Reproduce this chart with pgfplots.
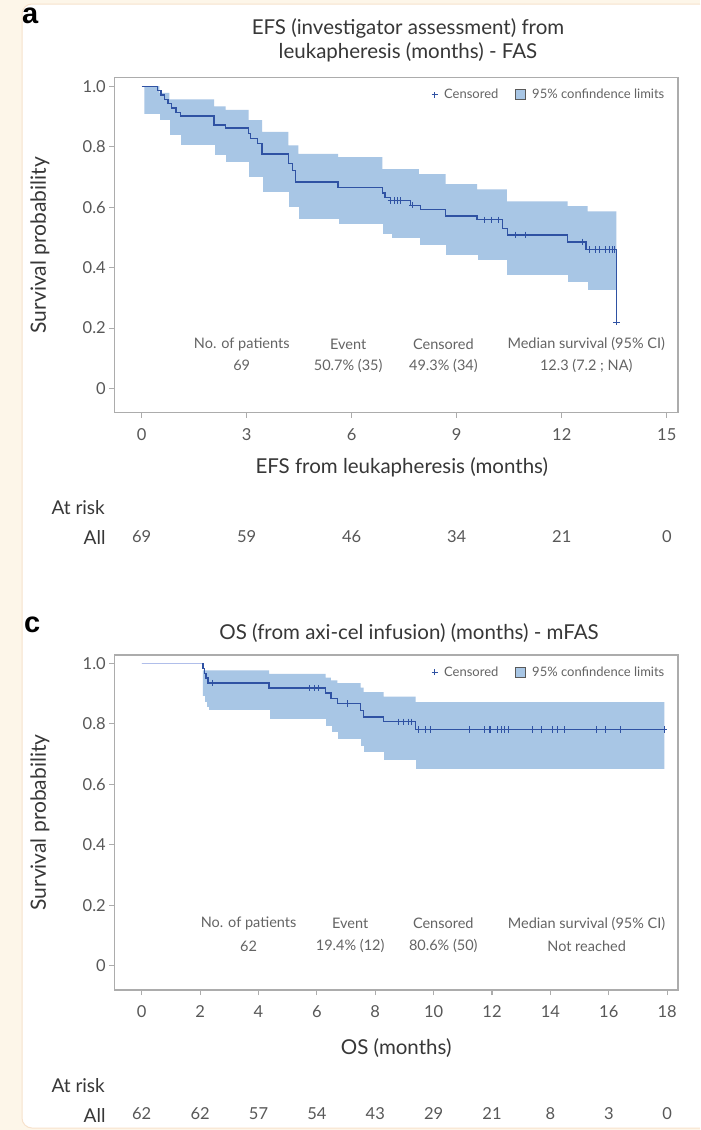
\documentclass[border=0pt]{standalone}
\usepackage{pgfplots}
\usepackage{pgfplotstable}
\pgfplotsset{compat=1.18}
\usepackage{fontspec}
\setmainfont{Lato}
\newfontfamily\panelfont{Liberation Sans}

\definecolor{cream}{RGB}{253,246,233}
\definecolor{cardedge}{RGB}{247,226,204}
\definecolor{cifill}{RGB}{168,198,229}
\definecolor{kmline}{RGB}{47,82,163}
\definecolor{kmlight}{RGB}{176,190,234}
\definecolor{framegray}{RGB}{172,172,172}
\definecolor{tickgray}{RGB}{88,88,88}
\definecolor{statgray}{RGB}{100,100,100}
\definecolor{titlegray}{RGB}{55,55,55}

\newcommand{\fs}[1]{\fontsize{#1}{#1}\selectfont}

% ---------- EFS from leukapheresis (FAS) ----------
\pgfplotstableread{
t S
0 1.0
0.45 0.986
0.55 0.971
0.65 0.957
0.75 0.942
0.85 0.928
0.98 0.914
1.12 0.901
2.07 0.872
2.4 0.862
3.06 0.843
3.12 0.827
3.3 0.811
3.44 0.776
4.19 0.745
4.3 0.720
4.39 0.683
5.61 0.666
6.88 0.647
6.95 0.632
7.1 0.622
7.68 0.606
7.97 0.592
8.68 0.571
9.58 0.558
10.3 0.530
10.45 0.508
12.17 0.485
12.69 0.460
13.56 0.220
}\efsKM

\pgfplotstableread{
t L U
0.08 0.906 1.0
0.51 0.885 0.978
0.79 0.836 0.956
1.12 0.802 0.956
2.07 0.771 0.933
2.4 0.748 0.922
3.06 0.698 0.888
3.44 0.648 0.849
4.19 0.597 0.804
4.48 0.558 0.776
5.61 0.541 0.765
6.88 0.508 0.726
7.12 0.496 0.726
7.92 0.474 0.709
8.68 0.440 0.676
9.58 0.424 0.659
10.43 0.373 0.619
12.17 0.350 0.603
12.74 0.323 0.586
13.56 0.323 0.586
}\efsCI

\pgfplotstableread{
t S
7.12 0.622
7.22 0.622
7.31 0.622
7.40 0.622
7.73 0.606
9.80 0.558
9.98 0.558
10.20 0.558
10.69 0.508
10.97 0.508
12.60 0.485
12.80 0.460
12.97 0.460
13.07 0.460
13.26 0.460
13.35 0.460
13.45 0.460
13.50 0.460
13.56 0.220
}\efsCens

% ---------- OS from axi-cel infusion (mFAS) ----------
\pgfplotstableread{
t S
0 1.0
2.1 0.984
2.15 0.968
2.2 0.952
2.27 0.935
4.36 0.919
6.3 0.902
6.48 0.885
6.7 0.868
7.5 0.845
7.6 0.823
8.29 0.807
9.38 0.782
17.9 0.782
}\osKM

\pgfplotstableread{
t L U
2.09 0.890 0.977
2.15 0.870 0.977
2.2 0.855 0.977
2.27 0.843 0.977
4.36 0.815 0.966
6.3 0.790 0.953
6.48 0.770 0.944
6.7 0.748 0.935
7.5 0.725 0.920
7.6 0.704 0.905
8.29 0.678 0.890
9.38 0.648 0.872
17.9 0.648 0.872
}\osCI

\pgfplotstableread{
t S
2.41 0.935
5.76 0.919
5.93 0.919
6.04 0.919
7.06 0.868
8.80 0.807
8.97 0.807
9.14 0.807
9.25 0.807
9.48 0.782
9.71 0.782
9.88 0.782
11.24 0.782
11.75 0.782
11.90 0.782
11.96 0.782
12.20 0.782
12.32 0.782
12.41 0.782
12.55 0.782
13.37 0.782
13.68 0.782
14.08 0.782
14.25 0.782
14.48 0.782
15.56 0.782
15.90 0.782
16.41 0.782
17.90 0.782
}\osCens

\pgfplotsset{
  kmaxis/.style={
    scale only axis, width=563.7pt, height=335pt,
    anchor=south west,
    ymin=-0.08, ymax=1.028,
    ytick={0,0.2,0.4,0.6,0.8,1.0},
    yticklabels={0,0.2,0.4,0.6,0.8,1.0},
    axis line style={framegray, line width=1.1pt},
    tick style={framegray, line width=1.1pt},
    tick align=outside, xtick pos=bottom, ytick pos=left,
    major tick length=5pt,
    ticklabel style={font=\fs{16.5}, text=tickgray},
    xticklabel style={yshift=-7pt},
    ylabel={Survival probability},
    label style={font=\fs{20.5}, text=titlegray},
    ylabel style={font=\fs{21}, at={(axis description cs:-0.132,0.5)}, anchor=center},
    extra x tick style={tick style={draw=none}, xticklabel style={yshift=-102pt}},
    clip=false,
    legend columns=2,
    legend style={at={(axis description cs:0.985,0.978)}, anchor=north east,
      draw=none, fill=none, font=\fs{13}, text=statgray,
      /tikz/every odd column/.append style={column sep=4pt},
      /tikz/every even column/.append style={column sep=15pt}},
  },
  % band: upper limit filled down to zero, then the area under the lower limit cleared
  bandfill/.style={fill=cifill, draw=none, const plot, forget plot},
  bandclear/.style={fill=white, draw=white, line width=1.2pt, const plot, forget plot},
  cisquare/.style={legend image code/.code={%
      \draw[fill=cifill, draw=black!65, line width=0.8pt] (0pt,-5pt) rectangle (10pt,5pt);}},
  cimark/.style={legend image code/.code={%
      \draw[kmline, line width=0.9pt] (0pt,-3pt) -- (0pt,3pt) (-3pt,0pt) -- (3pt,0pt);}},
}
\tikzset{statnode/.style={font=\fs{14.5}, text=statgray, anchor=center}}

\begin{document}
\begin{tikzpicture}
% page background and white card (only the left corners are rounded)
\fill[cream] (0pt,0pt) rectangle (700pt,-1130pt);
\fill[white] (700pt,-4pt) [rounded corners=10pt] -- (22pt,-4pt) -- (22pt,-1128pt)
  [sharp corners] -- (700pt,-1128pt) -- cycle;
\draw[cardedge, line width=1pt] (700pt,-4pt) [rounded corners=10pt] -- (22pt,-4pt)
  -- (22pt,-1128pt) [sharp corners] -- (700pt,-1128pt);

% panel letters
\node[font=\panelfont\bfseries\fs{29}, anchor=base west, inner sep=0pt] at (22pt,-23pt) {a};
\node[font=\panelfont\bfseries\fs{29}, anchor=base west, inner sep=0pt] at (24pt,-632pt) {c};

% titles
\node[align=center, font=\fontsize{20.5}{24}\selectfont, text=titlegray] at (408pt,-40pt)
  {EFS (investigator assessment) from\\leukapheresis (months) - FAS};
\node[font=\fs{20.5}, text=titlegray] at (409pt,-633pt)
  {OS (from axi-cel infusion) (months) - mFAS};

% at-risk row headings
\node[font=\fs{19}, text=titlegray, anchor=west] at (48pt,-508pt) {At risk};
\node[font=\fs{19}, text=titlegray, anchor=east] at (109pt,-537pt) {All};
\node[font=\fs{19}, text=titlegray, anchor=west] at (48pt,-1086pt) {At risk};
\node[font=\fs{19}, text=titlegray, anchor=east] at (109pt,-1115pt) {All};

% ---------- panel a ----------
\begin{axis}[kmaxis, at={(114.3pt,-412.7pt)},
  xmin=-0.78, xmax=15.32,
  xtick={0,3,6,9,12,15}, xticklabels={0,3,6,9,12,15},
  extra x ticks={0,3,6,9,12,15}, extra x tick labels={69,59,46,34,21,0},
  xlabel={EFS from leukapheresis (months)},
  xlabel style={at={(axis description cs:0.51,-0.162)}, anchor=center},
]
\addlegendimage{cimark}
\addlegendentry{Censored}
\addlegendimage{cisquare}
\addlegendentry{95\% confindence limits}

\addplot[bandfill] table[x=t, y=U] \efsCI \closedcycle;
\addplot[bandclear] table[x=t, y=L] \efsCI \closedcycle;
\addplot[kmline, line width=1.3pt, const plot, forget plot] table[x=t, y=S] \efsKM;
\addplot[only marks, mark=+, mark size=3.2pt, kmline, line width=0.9pt, forget plot]
  table[x=t, y=S] \efsCens;

\node[statnode] at (axis cs:2.86,0.146) {No. of patients};
\node[statnode] at (axis cs:5.90,0.146) {Event};
\node[statnode] at (axis cs:8.62,0.146) {Censored};
\node[statnode] at (axis cs:12.70,0.146) {Median survival (95\% CI)};
\node[statnode] at (axis cs:2.86,0.076) {69};
\node[statnode] at (axis cs:5.90,0.076) {50.7\% (35)};
\node[statnode] at (axis cs:8.62,0.076) {49.3\% (34)};
\node[statnode] at (axis cs:12.70,0.076) {12.3 (7.2 ; NA)};
\end{axis}

% ---------- panel c ----------
\begin{axis}[kmaxis, at={(114.3pt,-990pt)},
  xmin=-0.94, xmax=18.37,
  xtick={0,2,...,18}, xticklabels={0,2,4,6,8,10,12,14,16,18},
  extra x ticks={0,2,4,6,8,10,12,14,16,18},
  extra x tick labels={62,62,57,54,43,29,21,8,3,0},
  xlabel={OS (months)},
  xlabel style={at={(axis description cs:0.5,-0.173)}, anchor=center},
]
\addlegendimage{cimark}
\addlegendentry{Censored}
\addlegendimage{cisquare}
\addlegendentry{95\% confindence limits}

\addplot[bandfill] table[x=t, y=U] \osCI \closedcycle;
\addplot[bandclear] table[x=t, y=L] \osCI \closedcycle;
\addplot[kmline, line width=1.3pt, const plot, forget plot] table[x=t, y=S] \osKM;
\addplot[kmlight, line width=1.6pt, forget plot] coordinates {(0,1.0) (2.08,1.0)};
\addplot[only marks, mark=+, mark size=3.2pt, kmline, line width=0.9pt, forget plot]
  table[x=t, y=S] \osCens;

\node[statnode] at (axis cs:3.66,0.140) {No. of patients};
\node[statnode] at (axis cs:7.14,0.140) {Event};
\node[statnode] at (axis cs:10.33,0.140) {Censored};
\node[statnode] at (axis cs:15.24,0.140) {Median survival (95\% CI)};
\node[statnode] at (axis cs:3.66,0.066) {62};
\node[statnode] at (axis cs:7.14,0.066) {19.4\% (12)};
\node[statnode] at (axis cs:10.33,0.066) {80.6\% (50)};
\node[statnode] at (axis cs:15.24,0.066) {Not reached};
\end{axis}
\end{tikzpicture}
\end{document}
